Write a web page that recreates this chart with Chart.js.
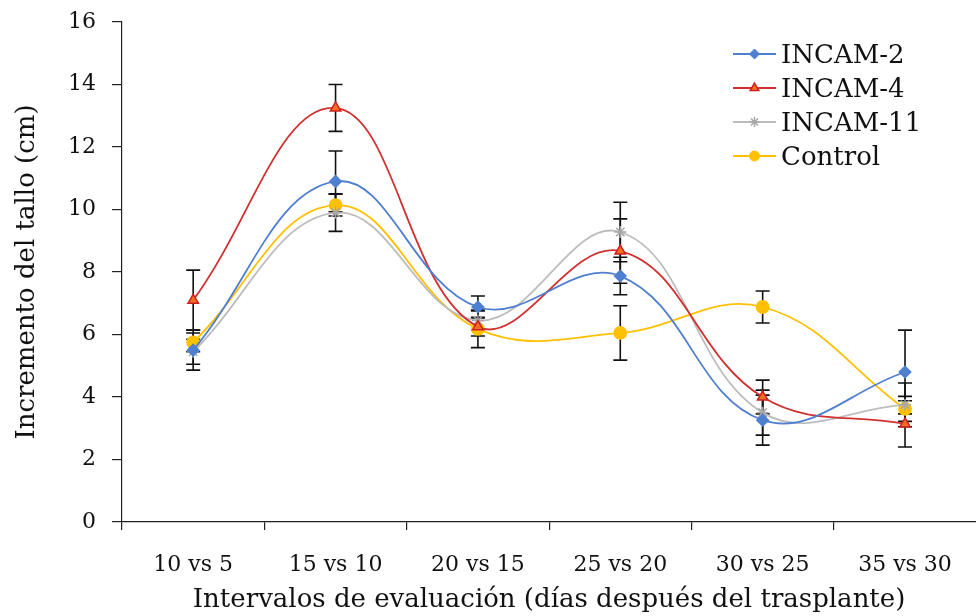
<!DOCTYPE html>
<html>
<head>
<meta charset="utf-8">
<script src="https://cdn.jsdelivr.net/npm/chart.js@4.4.1/dist/chart.umd.min.js"></script>
<style>
html, body { margin: 0; padding: 0; overflow: hidden; background: #fff; }
canvas { display: block; }
</style>
</head>
<body>
<canvas id="grafico" width="984" height="616"></canvas>
<script>
// Datos
const intervalos = ['10 vs 5', '15 vs 10', '20 vs 15', '25 vs 20', '30 vs 25', '35 vs 30'];
const incam2 = [5.5, 10.9, 6.88, 7.87, 3.26, 4.8];
const incam2Err = [0.64, 0.97, 0.35, 0.6, 0.8, 1.34];
const incam4 = [7.1, 13.25, 6.25, 8.67, 4.0, 3.14];
const incam4Err = [0.96, 0.75, 0.3, 1.03, 0.54, 0.74];
const incam11 = [5.45, 9.9, 6.45, 9.28, 3.5, 3.75];
const incam11Err = [0.4, 0.6, 0.3, 0.95, 0.72, 0.7];
const control = [5.75, 10.14, 6.18, 6.05, 6.88, 3.62];
const controlErr = [0.3, 0.35, 0.6, 0.87, 0.51, 0.4];
const ticksY = [0, 2, 4, 6, 8, 10, 12, 14, 16];

const fuente = "'DejaVu Serif', 'Liberation Serif', serif";
const ctx = document.getElementById('grafico').getContext('2d');

const serie = (label, data, err, color, estilo, extra) => Object.assign({
    label: label,
    data: data,
    errores: err,
    borderColor: color,
    backgroundColor: color,
    borderWidth: 1.8,
    pointStyle: estilo,
    pointRadius: 5,
    pointBorderColor: color,
    pointBackgroundColor: color,
    tension: 0.4,
    fill: false
}, extra || {});

// barras de error dibujadas con la escala
const barrasError = {
    id: 'barrasError',
    beforeDatasetsDraw(chart) {
        const c = chart.ctx;
        const y = chart.scales.y;
        c.save();
        c.strokeStyle = '#111';
        c.lineWidth = 1.6;
        chart.data.datasets.forEach((ds, i) => {
            const meta = chart.getDatasetMeta(i);
            meta.data.forEach((p, j) => {
                const v = ds.data[j], e = ds.errores[j];
                const arriba = y.getPixelForValue(v + e);
                const abajo = y.getPixelForValue(v - e);
                c.beginPath();
                c.moveTo(p.x, arriba); c.lineTo(p.x, abajo);
                c.moveTo(p.x - 7, arriba); c.lineTo(p.x + 7, arriba);
                c.moveTo(p.x - 7, abajo); c.lineTo(p.x + 7, abajo);
                c.stroke();
            });
        });
        c.restore();
    }
};

// leyenda con línea y marcador
const leyenda = {
    id: 'leyenda',
    afterDraw(chart) {
        const c = chart.ctx;
        c.save();
        c.font = '26px ' + fuente;
        c.textBaseline = 'middle';
        chart.data.datasets.forEach((ds, i) => {
            const yy = 54 + i * 34;
            c.strokeStyle = ds.borderColor;
            c.lineWidth = 1.8;
            c.beginPath(); c.moveTo(733, yy); c.lineTo(776, yy); c.stroke();
            c.fillStyle = ds.pointBackgroundColor;
            c.strokeStyle = ds.pointBorderColor;
            c.lineWidth = ds.pointBorderWidth || 1;
            Chart.helpers.drawPoint(c, { pointStyle: ds.pointStyle, radius: 5, rotation: 0, borderWidth: ds.pointBorderWidth || 1 }, 754.5, yy);
            c.fillStyle = '#111';
            c.fillText(ds.label, 781, yy + 2);
        });
        c.restore();
    }
};

new Chart(ctx, {
    type: 'line',
    data: {
        labels: intervalos,
        datasets: [
            serie('INCAM-2', incam2, incam2Err, '#4f7fd0', 'rectRot', { pointRadius: 5.5 }),
            serie('INCAM-4', incam4, incam4Err, '#d03030', 'triangle', { pointBackgroundColor: '#f07020', pointBorderColor: '#cc2020', pointBorderWidth: 1.5, pointRadius: 6 }),
            serie('INCAM-11', incam11, incam11Err, '#bdbdbd', 'star', { pointBorderColor: '#a8a8a8', pointBorderWidth: 1.5, pointRadius: 6 }),
            serie('Control', control, controlErr, '#ffc000', 'circle', { pointRadius: 6 })
        ]
    },
    options: {
        responsive: false,
        animation: false,
        devicePixelRatio: 1,
        layout: { padding: { top: 0, right: 1, left: 0, bottom: 0 } },
        plugins: {
            legend: { display: false },
            tooltip: { enabled: false }
        },
        scales: {
            x: {
                offset: true,
                afterFit: (s) => { s.height = 94; },
                grid: { drawOnChartArea: false, offset: true, tickLength: 8, color: '#222', lineWidth: 1.2 },
                border: { color: '#222', width: 1.2 },
                ticks: { color: '#111', font: { family: fuente, size: 22 }, padding: 22, maxRotation: 0 },
                title: {
                    display: true,
                    text: 'Intervalos de evaluación (días después del trasplante)',
                    color: '#111',
                    font: { family: fuente, size: 26 },
                    padding: { top: 0, bottom: 0 }
                }
            },
            y: {
                min: 0,
                max: 16,
                afterFit: (s) => { s.width = 122; s.paddingTop = 22; },
                afterBuildTicks: (s) => { s.ticks = ticksY.map(v => ({ value: v })); },
                grid: { drawOnChartArea: false, tickLength: 10, color: '#222', lineWidth: 1.2 },
                border: { color: '#222', width: 1.2 },
                ticks: { color: '#111', font: { family: fuente, size: 22 }, padding: 16 },
                title: {
                    display: true,
                    text: 'Incremento del tallo (cm)',
                    color: '#111',
                    font: { family: fuente, size: 26 },
                    padding: { top: 12, bottom: 0 }
                }
            }
        }
    },
    plugins: [barrasError, leyenda]
});
</script>
</body>
</html>
